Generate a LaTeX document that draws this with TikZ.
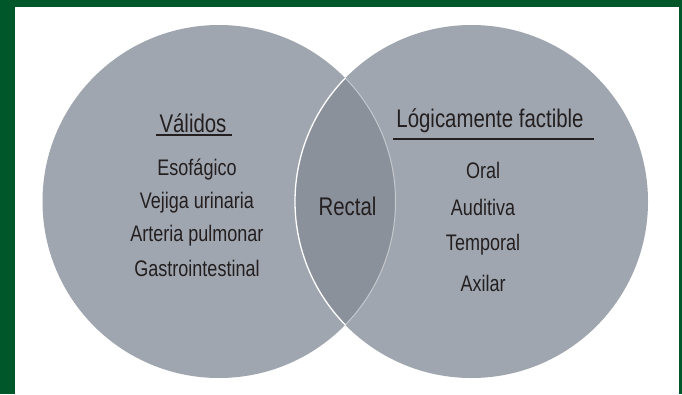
\documentclass[tikz,border=0pt]{standalone}
\usepackage{fontspec}
\setmainfont[FakeStretch=0.8]{Liberation Sans}
\usepackage{tikz}
\usetikzlibrary{calc, positioning}

\definecolor{framegreen}{RGB}{0,87,42}
\definecolor{setgray}{RGB}{160,166,175}
\definecolor{lensgray}{RGB}{139,145,155}
\definecolor{inkgray}{RGB}{35,31,32}

\begin{document}
\begin{tikzpicture}[x=1pt, y=-1pt,
        head/.style={text=inkgray, font=\fontsize{25.5}{29}\selectfont, inner sep=1pt},
        item/.style={text=inkgray, font=\fontsize{22.5}{26}\selectfont, inner sep=1pt},
        uline/.style={draw=inkgray, line width=1.2pt}]
        \useasboundingbox (0,0) rectangle (682,394);
        \fill[framegreen] (0,0) rectangle (682,394);
        \fill[white] (15,7) rectangle (679,394);
        % the two sets
        \coordinate (lc) at (219,201.5);
        \coordinate (rc) at (471.5,201.5);
        \fill[setgray] (lc) circle[radius=176.5pt];
        \fill[setgray] (rc) circle[radius=176.5pt];
        \begin{scope}
            \clip (lc) circle[radius=176.5pt];
            \fill[lensgray] (rc) circle[radius=176.5pt];
            \draw[white, line width=1.3pt] (rc) circle[radius=176.5pt];
        \end{scope}
        \begin{scope}
            \clip (rc) circle[radius=176.5pt];
            \draw[white, opacity=0.45, line width=1pt] (lc) circle[radius=176.5pt];
        \end{scope}
        % left set
        \node[head] (vali) at (193,123) {Válidos};
        \draw[uline] (156,135) -- (232,135);
        \node[item] (esof) at (197,170) {Esofágico};
        \node[item] (veji) at (197,203) {Vejiga urinaria};
        \node[item] (arte) at (197,236) {Arteria pulmonar};
        \node[item] (gast) at (197,268) {Gastrointestinal};
        % middle
        \node[text=inkgray, font=\fontsize{25.5}{29}\selectfont] (rect) at (347.5,206) {Rectal};
        % right set
        \node[head] (logi) at (490,121) {Lógicamente factible};
        \draw[uline] (393,139) -- (594,139);
        \node[item] (oral) at (483,170) {Oral};
        \node[item] (audi) at (483,207) {Auditiva};
        \node[item] (temp) at (483,245) {Temporal};
        \node[item] (axil) at (483,283) {Axilar};
\end{tikzpicture}
\end{document}
